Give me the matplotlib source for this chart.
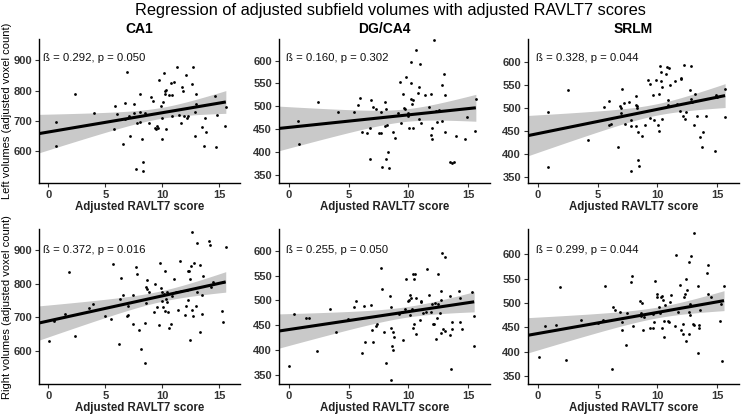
import numpy as np
import matplotlib
matplotlib.use("Agg")
import matplotlib.pyplot as plt

plt.rcParams['font.family'] = ['Liberation Sans', 'DejaVu Sans']

# adjusted RAVLT7 score / adjusted volume
ca1_left_x = [0.73, 0.73, 2.36, 4.05, 5.77, 5.88, 6.06, 6.52, 6.76, 6.87, 6.73, 7.08, 7.19, 7.48, 7.54,
              7.69, 7.75, 8.01, 8.04, 8.07, 8.27, 8.33, 8.24, 8.5, 8.83, 9.03, 9.2, 9.32, 9.44, 9.55,
              9.64, 9.7, 9.85, 9.96, 9.99, 10.08, 10.14, 10.2, 10.25, 10.31, 10.34, 10.54, 10.72, 10.84,
              10.81, 10.98, 11.3, 11.5, 11.65, 11.74, 11.83, 11.88, 12.03, 12.12, 12.26, 12.58, 12.67,
              12.82, 12.88, 12.93, 12.96, 13.46, 13.75, 13.63, 13.81, 14.62, 14.68, 14.77, 15.5, 15.56]
ca1_left_y = [694, 616, 787, 726, 672, 749, 721, 624, 706, 860, 758, 717, 649, 756, 724,
              541, 693, 788, 730, 694, 564, 532, 639, 724, 693, 777, 764, 674, 671, 682,
              676, 836, 747, 710, 639, 762, 858, 799, 789, 803, 673, 786, 824, 786,
              716, 829, 878, 719, 693, 811, 797, 714, 850, 708, 717, 821, 878,
              728, 649, 787, 756, 678, 709, 616, 661, 782, 614, 718, 682, 744]

dg_left_x = [0.78, 0.84, 2.43, 4.09, 5.49, 5.82, 5.96, 6.1, 6.58, 6.77, 6.75, 6.91, 7.05, 7.25, 7.56,
             7.69, 7.75, 7.72, 8.0, 8.0, 8.09, 8.14, 8.2, 8.28, 8.39, 8.67, 8.87, 9.12, 9.29, 9.37,
             9.54, 9.6, 9.68, 9.77, 9.94, 9.99, 10.08, 10.19, 10.22, 10.25, 10.33, 10.36, 10.41,
             10.66, 10.78, 10.86, 10.91, 10.97, 11.05, 11.36, 11.69, 11.87, 11.89, 11.95, 12.0,
             12.17, 12.29, 12.34, 12.57, 12.76, 12.79, 12.93, 13.01, 13.04, 13.49, 13.66, 13.8,
             13.99, 14.72, 14.86, 15.62, 15.56]
dg_left_y = [468, 419, 510, 488, 488, 502, 518, 445, 441, 454, 386, 515, 499, 495, 441,
             443, 368, 488, 509, 458, 494, 386, 459, 401, 366, 445, 432, 486, 553, 463,
             526, 496, 494, 564, 485, 479, 453, 516, 596, 550, 505, 452, 514,
             622, 529, 543, 473, 593, 464, 524, 499, 526, 437, 453, 429,
             645, 489, 467, 492, 546, 469, 571, 525, 445, 378, 376, 378,
             435, 429, 478, 517, 447]

srlm_left_x = [0.84, 0.86, 2.54, 4.18, 5.58, 5.99, 5.94, 6.16, 6.69, 6.91, 6.94, 6.97, 7.0, 7.2,
               7.33, 7.64, 7.75, 7.81, 7.81, 8.17, 8.17, 8.17, 8.28, 8.31, 8.36, 8.36, 8.45, 8.73,
               8.92, 9.17, 9.34, 9.4, 9.62, 9.73, 9.84, 10.04, 10.09, 10.12, 10.18, 10.26, 10.29,
               10.37, 10.4, 10.7, 10.82, 10.9, 10.96, 10.9, 11.04, 11.43, 11.65, 11.93, 11.99,
               11.85, 12.1, 12.21, 12.32, 12.38, 12.71, 12.77, 12.8, 12.91, 13.1, 13.05, 13.33,
               13.58, 13.77, 13.74, 14.05, 14.78, 14.89, 14.94, 15.64, 15.61]
srlm_left_y = [491, 370, 538, 430, 501, 515, 463, 465, 415, 504, 498, 488, 540, 510,
               464, 511, 474, 460, 361, 525, 506, 460, 503, 498, 447, 385, 373, 439,
               462, 560, 551, 478, 528, 474, 559, 462, 450, 529, 591, 578, 558,
               544, 476, 574, 588, 517, 586, 506, 550, 558, 508, 564, 562,
               492, 481, 593, 476, 490, 538, 590, 519, 512, 530, 461, 481,
               436, 447, 415, 481, 405, 527, 522, 540, 479]

ca1_right_x = [0.06, 0.49, 1.51, 1.8, 2.32, 3.54, 3.92, 5.02, 5.48, 5.66, 6.18, 6.29, 6.41, 6.59,
               6.93, 6.99, 7.02, 7.4, 7.46, 7.69, 7.8, 7.92, 8.15, 8.44, 8.5, 8.53, 8.53, 8.7, 8.67,
               8.79, 9.28, 9.37, 9.55, 9.72, 9.78, 9.86, 9.95, 9.98, 10.07, 10.15, 10.21, 10.24,
               10.33, 10.39, 10.45, 10.5, 10.56, 10.79, 10.88, 10.99, 11.17, 11.37, 11.52, 11.63,
               11.95, 12.04, 12.19, 12.21, 12.27, 12.33, 12.39, 12.42, 12.53, 12.56, 12.59, 12.68,
               12.76, 12.94, 13.0, 13.03, 13.34, 13.34, 13.43, 13.46, 13.58, 14.07, 14.19, 14.22,
               14.42, 15.23, 15.32, 15.35, 15.55]
ca1_right_y = [630, 690, 710, 833, 644, 728, 738, 705, 696, 859, 620, 754, 817, 767,
               703, 708, 733, 681, 767, 848, 828, 661, 607, 565, 683, 789, 743, 810, 784,
               775, 715, 800, 731, 677, 861, 787, 775, 748, 731, 769, 838, 718,
               753, 746, 776, 715, 667, 681, 762, 814, 775, 721, 866, 779,
               706, 733, 782, 836, 751, 836, 633, 814, 851, 952, 721, 703,
               861, 733, 920, 774, 856, 656, 767, 710, 824, 925, 915, 789,
               804, 718, 804, 687, 908]

dg_right_x = [0.03, 0.45, 1.49, 1.71, 2.33, 3.48, 3.92, 4.96, 5.47, 5.64, 6.1, 6.3, 6.39, 6.87,
              6.98, 7.06, 7.32, 7.4, 7.71, 7.82, 7.99, 8.16, 8.49, 8.55, 8.52, 8.55, 8.66, 8.72,
              8.77, 8.72, 9.22, 9.47, 9.53, 9.73, 9.81, 9.92, 10.01, 10.12, 10.15, 10.23, 10.26,
              10.34, 10.4, 10.46, 10.49, 10.57, 10.6, 10.65, 10.96, 11.02, 11.07, 11.19, 11.44,
              11.58, 11.72, 11.86, 12.0, 12.06, 12.14, 12.22, 12.28, 12.36, 12.45, 12.5, 12.62,
              12.7, 12.72, 12.7, 12.81, 12.9, 13.06, 13.04, 13.43, 13.46, 13.54, 13.6, 13.63,
              14.21, 14.27, 14.3, 14.49, 15.34, 15.45, 15.48]
dg_right_y = [368, 472, 464, 465, 397, 483, 437, 463, 487, 499, 394, 489, 416, 491,
              440, 415, 448, 453, 565, 522, 436, 373, 508, 487, 340, 445, 407, 435,
              425, 400, 472, 477, 420, 483, 543, 499, 501, 471, 510, 505, 483,
              444, 554, 544, 453, 554, 432, 505, 461, 499, 496, 475, 477,
              564, 510, 477, 492, 452, 453, 495, 421, 465, 554, 493, 474,
              501, 519, 434, 595, 442, 588, 439, 509, 430, 362, 457, 442,
              519, 505, 456, 443, 516, 469, 407]

srlm_right_x = [0.08, 0.58, 1.52, 1.83, 2.41, 3.6, 5.02, 5.43, 5.63, 6.18, 6.32, 6.46, 6.9, 7.04,
                7.04, 7.4, 7.49, 7.76, 7.85, 7.96, 8.59, 8.57, 8.63, 8.73, 8.79, 8.84, 9.37, 9.59,
                9.62, 9.7, 9.81, 9.92, 9.98, 10.12, 10.23, 10.26, 10.34, 10.4, 10.48, 10.56, 10.56,
                10.62, 10.9, 10.95, 11.03, 11.09, 11.45, 11.53, 11.7, 11.89, 12.0, 12.09, 12.17,
                12.25, 12.31, 12.37, 12.42, 12.48, 12.59, 12.61, 12.64, 12.7, 12.75, 12.78, 12.97,
                13.03, 13.03, 13.39, 13.39, 13.5, 13.5, 13.58, 14.17, 14.19, 14.25, 14.44, 15.25,
                15.33, 15.39, 15.55]
srlm_right_y = [389, 454, 456, 534, 383, 466, 460, 465, 536, 365, 493, 486, 481, 462,
                445, 413, 479, 544, 556, 452, 479, 505, 473, 501, 445, 472, 449, 449,
                478, 462, 546, 518, 512, 492, 479, 513, 449, 514, 506, 463, 430,
                496, 464, 462, 502, 517, 454, 598, 481, 537, 445, 437, 457,
                513, 518, 550, 422, 527, 481, 585, 437, 498, 476, 597, 458,
                456, 643, 536, 398, 456, 449, 485, 561, 578, 518, 513, 464,
                498, 382, 536]

subfields = ['CA1', 'DG/CA4', 'SRLM']
stats_left = ['ß = 0.292, p = 0.050', 'ß = 0.160, p = 0.302', 'ß = 0.328, p = 0.044']
stats_right = ['ß = 0.372, p = 0.016', 'ß = 0.255, p = 0.050', 'ß = 0.299, p = 0.044']
ca1_ticks = [600, 700, 800, 900]
hc_ticks = [350, 400, 450, 500, 550, 600]
x_ticks = [0, 5, 10, 15]

# fitted line (adjusted model) read at the left axis edge and at the last score
fit_left = [[657, 452, 439], [683, 438, 434]]
fit_right = [[762, 497, 526], [805, 497, 505]]

rows = [
    [(ca1_left_x, ca1_left_y), (dg_left_x, dg_left_y), (srlm_left_x, srlm_left_y)],
    [(ca1_right_x, ca1_right_y), (dg_right_x, dg_right_y), (srlm_right_x, srlm_right_y)],
]
stats = [stats_left, stats_right]
ylims = [[(493, 971), (333, 647), (336, 649)],
         [(502, 962), (331, 644), (334, 652)]]

W, H = 741, 415
fig = plt.figure(figsize=(W / 100, H / 100), dpi=100)

# axes boxes in pixels: left, right, top, bottom
col_px = [(39, 240), (279, 490), (528, 739)]
row_px = [(39, 183), (229, 384)]
stat_dx = [0.02, 0.033, 0.036]
xlim = (-0.8, 16.8)


def band_se(x, y, grid):
    # standard error of the mean prediction, 95% band
    x = np.asarray(x, float)
    y = np.asarray(y, float)
    n = len(x)
    b, a = np.polyfit(x, y, 1)
    resid = y - (a + b * x)
    s = np.sqrt(np.sum(resid ** 2) / (n - 2))
    sxx = np.sum((x - x.mean()) ** 2)
    return 1.99 * s * np.sqrt(1 / n + (grid - x.mean()) ** 2 / sxx)


for r in range(2):
    for c in range(3):
        l, rr = col_px[c]
        t, b = row_px[r]
        ax = fig.add_axes([l / W, 1 - b / H, (rr - l) / W, (b - t) / H])
        x, y = rows[r][c]
        grid = np.linspace(xlim[0], max(x), 100)
        fit = np.interp(grid, [xlim[0], max(x)], [fit_left[r][c], fit_right[r][c]])
        hw = band_se(x, y, grid)
        ax.fill_between(grid, fit - hw, fit + hw, color='#c9c9c9', lw=0, zorder=1)
        ax.plot(grid, fit, color='black', lw=2.2, zorder=3, solid_capstyle='butt')
        ax.scatter(x, y, s=4, color='black', lw=0, zorder=2)
        ax.set_xlim(*xlim)
        ax.set_ylim(*ylims[r][c])
        ax.set_xticks(x_ticks)
        ax.set_yticks(ca1_ticks if c == 0 else hc_ticks)
        for sp in ['top', 'right']:
            ax.spines[sp].set_visible(False)
        for sp in ['left', 'bottom']:
            ax.spines[sp].set_linewidth(1.0)
        ax.tick_params(length=3, width=0.8, labelsize=8, pad=2, colors='#333333')
        for lab in ax.get_xticklabels() + ax.get_yticklabels():
            lab.set_fontweight('bold')
        ax.text(stat_dx[c], 0.865, stats[r][c], transform=ax.transAxes, fontsize=8.2,
                ha='left', va='center', color='#111111')
        ax.set_xlabel('Adjusted RAVLT7 score', fontsize=8.3, fontweight='bold',
                      labelpad=0.5, color='#222222')
        if r == 0:
            ax.set_title(subfields[c], fontsize=10, fontweight='bold', pad=4)

fig.text(390 / W, 1 - 10 / H, 'Regression of adjusted subfield volumes with adjusted RAVLT7 scores',
         ha='center', va='center', fontsize=11.8)
fig.text(7 / W, 1 - 111 / H, 'Left volumes (adjusted voxel count)', rotation=90,
         ha='center', va='center', fontsize=8)
fig.text(7 / W, 1 - 307 / H, 'Right volumes (adjusted voxel count)', rotation=90,
         ha='center', va='center', fontsize=8)

fig.savefig('out.png', dpi=100)
